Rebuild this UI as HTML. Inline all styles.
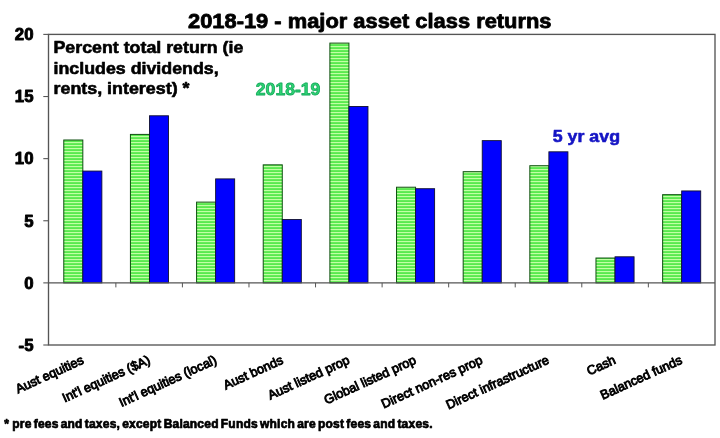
<!DOCTYPE html>
<html lang="en">
<head>
<meta charset="utf-8">
<title>2018-19 - major asset class returns</title>
<style>
html,body{margin:0;padding:0;background:#fff;}
body{width:720px;height:438px;overflow:hidden;}
svg{display:block;filter:blur(0.45px);}
svg text{font-family:"Liberation Sans",sans-serif;}
.b{font-weight:bold;stroke-width:0.6px;stroke-linejoin:round;}
.k{stroke:#000;}
</style>
</head>
<body>
<svg width="720" height="438" viewBox="0 0 720 438">
<defs>
<pattern id="hg" x="0" y="0" width="3" height="3" patternUnits="userSpaceOnUse">
<rect x="0" y="0" width="3" height="3" fill="#3ee43a"/>
<rect x="0" y="0.8" width="3" height="1.5" fill="#c2ffa4"/>
</pattern>
</defs>
<rect x="0" y="0" width="720" height="438" fill="#ffffff"/>
<rect x="48.5" y="34.4" width="666.5" height="310.6" fill="none" stroke="#555555" stroke-width="1.35"/>
<line x1="43.30" y1="34.40" x2="48.50" y2="34.40" stroke="#555555" stroke-width="1.1"/>
<text class="b k" x="33.5" y="40.15" font-size="16.8" style="stroke-width:0.9px" text-anchor="end" fill="#000">20</text>
<line x1="43.30" y1="96.52" x2="48.50" y2="96.52" stroke="#555555" stroke-width="1.1"/>
<text class="b k" x="33.5" y="102.27" font-size="16.8" style="stroke-width:0.9px" text-anchor="end" fill="#000">15</text>
<line x1="43.30" y1="158.64" x2="48.50" y2="158.64" stroke="#555555" stroke-width="1.1"/>
<text class="b k" x="33.5" y="164.39" font-size="16.8" style="stroke-width:0.9px" text-anchor="end" fill="#000">10</text>
<line x1="43.30" y1="220.76" x2="48.50" y2="220.76" stroke="#555555" stroke-width="1.1"/>
<text class="b k" x="33.5" y="226.51" font-size="16.8" style="stroke-width:0.9px" text-anchor="end" fill="#000">5</text>
<line x1="43.30" y1="282.88" x2="48.50" y2="282.88" stroke="#555555" stroke-width="1.1"/>
<text class="b k" x="33.5" y="288.63" font-size="16.8" style="stroke-width:0.9px" text-anchor="end" fill="#000">0</text>
<line x1="43.30" y1="345.00" x2="48.50" y2="345.00" stroke="#555555" stroke-width="1.1"/>
<text class="b k" x="33.5" y="350.75" font-size="16.8" style="stroke-width:0.9px" text-anchor="end" fill="#000">-5</text>
<rect x="63.78" y="140.00" width="19.04" height="142.88" fill="url(#hg)" stroke="#0f4f10" stroke-width="1"/>
<rect x="82.83" y="171.06" width="19.04" height="111.82" fill="#0000ff" stroke="#101030" stroke-width="0.9"/>
<rect x="130.43" y="134.41" width="19.04" height="148.47" fill="url(#hg)" stroke="#0f4f10" stroke-width="1"/>
<rect x="149.48" y="115.78" width="19.04" height="167.10" fill="#0000ff" stroke="#101030" stroke-width="0.9"/>
<rect x="196.58" y="202.12" width="19.04" height="80.76" fill="url(#hg)" stroke="#0f4f10" stroke-width="1"/>
<rect x="215.62" y="178.89" width="19.04" height="103.99" fill="#0000ff" stroke="#101030" stroke-width="0.9"/>
<rect x="263.23" y="164.85" width="19.04" height="118.03" fill="url(#hg)" stroke="#0f4f10" stroke-width="1"/>
<rect x="282.28" y="219.52" width="19.04" height="63.36" fill="#0000ff" stroke="#101030" stroke-width="0.9"/>
<rect x="329.88" y="43.10" width="19.04" height="239.78" fill="url(#hg)" stroke="#0f4f10" stroke-width="1"/>
<rect x="348.93" y="106.46" width="19.04" height="176.42" fill="#0000ff" stroke="#101030" stroke-width="0.9"/>
<rect x="396.53" y="187.22" width="19.04" height="95.66" fill="url(#hg)" stroke="#0f4f10" stroke-width="1"/>
<rect x="415.57" y="188.71" width="19.04" height="94.17" fill="#0000ff" stroke="#101030" stroke-width="0.9"/>
<rect x="463.18" y="171.69" width="19.04" height="111.19" fill="url(#hg)" stroke="#0f4f10" stroke-width="1"/>
<rect x="482.23" y="140.63" width="19.04" height="142.25" fill="#0000ff" stroke="#101030" stroke-width="0.9"/>
<rect x="529.83" y="165.72" width="19.04" height="117.16" fill="url(#hg)" stroke="#0f4f10" stroke-width="1"/>
<rect x="548.88" y="151.81" width="19.04" height="131.07" fill="#0000ff" stroke="#101030" stroke-width="0.9"/>
<rect x="595.98" y="258.03" width="19.04" height="24.85" fill="url(#hg)" stroke="#0f4f10" stroke-width="1"/>
<rect x="615.03" y="256.79" width="19.04" height="26.09" fill="#0000ff" stroke="#101030" stroke-width="0.9"/>
<rect x="662.63" y="194.67" width="19.04" height="88.21" fill="url(#hg)" stroke="#0f4f10" stroke-width="1"/>
<rect x="681.67" y="190.94" width="19.04" height="91.94" fill="#0000ff" stroke="#101030" stroke-width="0.9"/>
<line x1="48.5" y1="282.88" x2="715.0" y2="282.88" stroke="#555555" stroke-width="1.1"/>
<line x1="115.86" y1="282.88" x2="115.86" y2="287.38" stroke="#555555" stroke-width="1"/>
<line x1="182.42" y1="282.88" x2="182.42" y2="287.38" stroke="#555555" stroke-width="1"/>
<line x1="248.98" y1="282.88" x2="248.98" y2="287.38" stroke="#555555" stroke-width="1"/>
<line x1="315.54" y1="282.88" x2="315.54" y2="287.38" stroke="#555555" stroke-width="1"/>
<line x1="382.11" y1="282.88" x2="382.11" y2="287.38" stroke="#555555" stroke-width="1"/>
<line x1="448.67" y1="282.88" x2="448.67" y2="287.38" stroke="#555555" stroke-width="1"/>
<line x1="515.23" y1="282.88" x2="515.23" y2="287.38" stroke="#555555" stroke-width="1"/>
<line x1="581.79" y1="282.88" x2="581.79" y2="287.38" stroke="#555555" stroke-width="1"/>
<line x1="648.35" y1="282.88" x2="648.35" y2="287.38" stroke="#555555" stroke-width="1"/>
<text x="84.62" y="363.10" font-size="12.8" text-anchor="end" fill="#000" stroke="#000" stroke-width="0.9" transform="rotate(-24.5 84.62 363.10)">Aust equities</text>
<text x="151.11" y="363.10" font-size="12.8" text-anchor="end" fill="#000" stroke="#000" stroke-width="0.9" transform="rotate(-24.5 151.11 363.10)">Int'l equities ($A)</text>
<text x="217.59" y="363.10" font-size="12.8" text-anchor="end" fill="#000" stroke="#000" stroke-width="0.9" transform="rotate(-24.5 217.59 363.10)">Int'l equities (local)</text>
<text x="284.08" y="363.10" font-size="12.8" text-anchor="end" fill="#000" stroke="#000" stroke-width="0.9" transform="rotate(-24.5 284.08 363.10)">Aust bonds</text>
<text x="350.56" y="363.10" font-size="12.8" text-anchor="end" fill="#000" stroke="#000" stroke-width="0.9" transform="rotate(-24.5 350.56 363.10)">Aust listed prop</text>
<text x="417.04" y="363.10" font-size="12.8" text-anchor="end" fill="#000" stroke="#000" stroke-width="0.9" transform="rotate(-24.5 417.04 363.10)">Global listed prop</text>
<text x="483.53" y="363.10" font-size="12.8" text-anchor="end" fill="#000" stroke="#000" stroke-width="0.9" transform="rotate(-24.5 483.53 363.10)">Direct non-res prop</text>
<text x="550.01" y="363.10" font-size="12.8" text-anchor="end" fill="#000" stroke="#000" stroke-width="0.9" transform="rotate(-24.5 550.01 363.10)">Direct infrastructure</text>
<text x="616.49" y="363.10" font-size="12.8" text-anchor="end" fill="#000" stroke="#000" stroke-width="0.9" transform="rotate(-24.5 616.49 363.10)">Cash</text>
<text x="682.98" y="363.10" font-size="12.8" text-anchor="end" fill="#000" stroke="#000" stroke-width="0.9" transform="rotate(-24.5 682.98 363.10)">Balanced funds</text>
<text class="b k" x="188" y="27.8" font-size="20.7" style="stroke-width:0.8px" textLength="363.5" lengthAdjust="spacingAndGlyphs" fill="#000">2018-19 - major asset class returns</text>
<text class="b k" x="53.5" y="53.2" font-size="16.6" textLength="189.8" lengthAdjust="spacingAndGlyphs" fill="#000">Percent total return (ie</text>
<text class="b k" x="53.5" y="73.7" font-size="16.6" textLength="165.2" lengthAdjust="spacingAndGlyphs" fill="#000">includes dividends,</text>
<text class="b k" x="53.5" y="94.2" font-size="16.6" textLength="136" lengthAdjust="spacingAndGlyphs" fill="#000">rents, interest) *</text>
<text class="b" x="255.8" y="95.2" font-size="17.2" textLength="64.6" lengthAdjust="spacingAndGlyphs" fill="#30d474" stroke="#14aa5c" style="stroke-width:0.8px">2018-19</text>
<text class="b" x="552.8" y="141.5" font-size="17" textLength="67.2" lengthAdjust="spacingAndGlyphs" fill="#1414c4" stroke="#1414c4">5 yr avg</text>
<text class="b k" x="4.2" y="427.6" font-size="12" style="stroke-width:0.7px;word-spacing:-1.4px;letter-spacing:0.21px" fill="#000">*<tspan dx="1"> pre fees and taxes, except Balanced Funds which are post fees and taxes.</tspan></text>
</svg>
</body>
</html>
